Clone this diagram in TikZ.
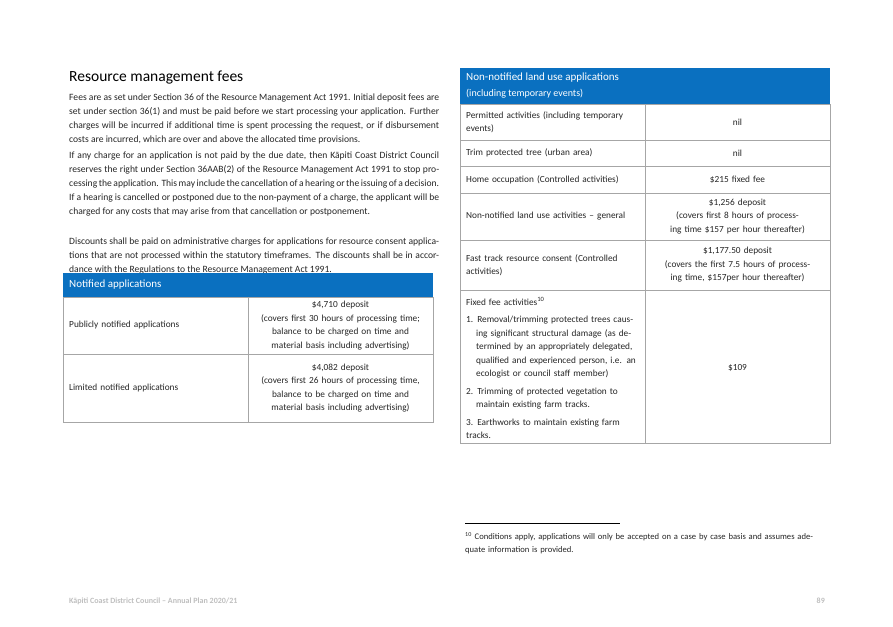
\documentclass[tikz,border=0pt]{standalone}
\usepackage{fontspec}
\setmainfont{Carlito}
\definecolor{hdr}{HTML}{0A70C0}
\definecolor{grid}{HTML}{A6A6A6}
\definecolor{txt}{HTML}{262626}
\begin{document}
\begin{tikzpicture}[x=1pt,y=-1pt,
  body/.style={anchor=north west,inner sep=0pt,text width=370pt,font=\fontsize{9.6}{14}\selectfont,text=txt,align=justify},
  lcell/.style={anchor=west,inner sep=0pt,text width=#1,font=\fontsize{9.3}{13.5}\selectfont,text=txt,align=left},
  ccell/.style={anchor=center,inner sep=0pt,text width=#1,font=\fontsize{9.3}{13.5}\selectfont,text=txt,align=center},
  hcell/.style={anchor=west,inner sep=0pt,font=\fontsize{11}{15}\selectfont,text=white,align=left},
  gl/.style={draw=grid,line width=0.6pt}]
\useasboundingbox (0,0) rectangle (893,626);
\fill[white] (0,0) rectangle (893,626);
\node[anchor=west,inner sep=0pt,font=\fontsize{15.5}{18}\selectfont,text=black] (title) at (69,78) {Resource management fees};
\node[body] (p1) at (69,94) {Fees are as set under Section 36 of the Resource Management Act 1991. Initial deposit fees are set under section 36(1) and must be paid before we start processing your application. Further charges will be incurred if additional time is spent processing the request, or if disbursement costs are incurred, which are over and above the allocated time provisions.};
\node[body] (p2) at (69,152) {If any charge for an application is not paid by the due date, then Kāpiti Coast District Council reserves the right under Section 36AAB(2) of the Resource Management Act 1991 to stop processing the application. This may include the cancellation of a hearing or the issuing of a decision. If a hearing is cancelled or postponed due to the non-payment of a charge, the applicant will be charged for any costs that may arise from that cancellation or postponement.};
\node[body] (p3) at (69,238) {Discounts shall be paid on administrative charges for applications for resource consent applications that are not processed within the statutory timeframes. The discounts shall be in accordance with the Regulations to the Resource Management Act 1991.};
% left table
\fill[hdr] (63,273) rectangle (433,297);
\node[hcell] (lh) at (69,285) {Notified applications};
\draw[gl] (63,297) rectangle (433,422);
\draw[gl] (63,354) -- (433,354);
\draw[gl] (248,297) -- (248,422);
\node[lcell=175pt] (l1a) at (69,325.5) {Publicly notified applications};
\node[ccell=178pt] (l1b) at (340.5,325.5) {\$4,710 deposit\\(covers first 30 hours of processing time; balance to be charged on time and material basis including advertising)};
\node[lcell=175pt] (l2a) at (69,388) {Limited notified applications};
\node[ccell=178pt] (l2b) at (340.5,388) {\$4,082 deposit\\(covers first 26 hours of processing time, balance to be charged on time and material basis including advertising)};
% right table
\fill[hdr] (460,68) rectangle (830,104);
\node[hcell,font=\fontsize{11}{16}\selectfont] (rh) at (466,86) {Non-notified land use applications\\{\fontsize{10}{14}\selectfont(including temporary events)}};
\draw[gl] (460,104) rectangle (830,443);
\foreach \yy in {140,166,193,240,290} \draw[gl] (460,\yy) -- (830,\yy);
\draw[gl] (645,104) -- (645,443);
\node[lcell=170pt] (r1a) at (466,122) {Permitted activities (including temporary events)};
\node[ccell=178pt] (r1b) at (737.5,122) {nil};
\node[lcell=170pt] (r2a) at (466,153) {Trim protected tree (urban area)};
\node[ccell=178pt] (r2b) at (737.5,153) {nil};
\node[lcell=170pt] (r3a) at (466,179.5) {Home occupation (Controlled activities)};
\node[ccell=178pt] (r3b) at (737.5,179.5) {\$215 fixed fee};
\node[lcell=170pt] (r4a) at (466,216.5) {Non-notified land use activities – general};
\node[ccell=178pt] (r4b) at (737.5,216.5) {\$1,256 deposit\\(covers first 8 hours of processing time \$157 per hour thereafter)};
\node[lcell=170pt] (r5a) at (466,265) {Fast track resource consent (Controlled activities)};
\node[ccell=178pt] (r5b) at (737.5,265) {\$1,177.50 deposit\\(covers the first 7.5 hours of processing time, \$157per hour thereafter)};
\node[lcell=170pt,anchor=north west] (r6a) at (466,297) {Fixed fee activities\textsuperscript{10}\\[4pt]
\hangindent=10pt\hangafter=1 1.\hspace{4pt}Removal/trimming protected trees causing significant structural damage (as determined by an appropriately delegated, qualified and experienced person, i.e. an ecologist or council staff member)\par\vspace{4pt}
\hangindent=10pt\hangafter=1 2.\hspace{4pt}Trimming of protected vegetation to maintain existing farm tracks.\par\vspace{4pt}
\hangindent=10pt\hangafter=1 3.\hspace{4pt}Earthworks to maintain existing farm tracks.};
\node[ccell=178pt] (r6b) at (737.5,368) {\$109};
% footnote
\draw[black,line width=0.6pt] (465,523) -- (620,523);
\node[anchor=north west,inner sep=0pt,text width=360pt,font=\fontsize{8.6}{13}\selectfont,text=txt,align=left] (fn) at (465,532) {\textsuperscript{10} Conditions apply, applications will only be accepted on a case by case basis and assumes adequate information is provided.};
% footer
\node[anchor=west,inner sep=0pt,font=\fontsize{8}{10}\selectfont\bfseries,text=black!25] (ft) at (69,601) {Kāpiti Coast District Council – Annual Plan 2020/21};
\node[anchor=east,inner sep=0pt,font=\fontsize{8}{10}\selectfont\bfseries,text=black!25] (pg) at (825,601) {89};
\end{tikzpicture}
\end{document}
